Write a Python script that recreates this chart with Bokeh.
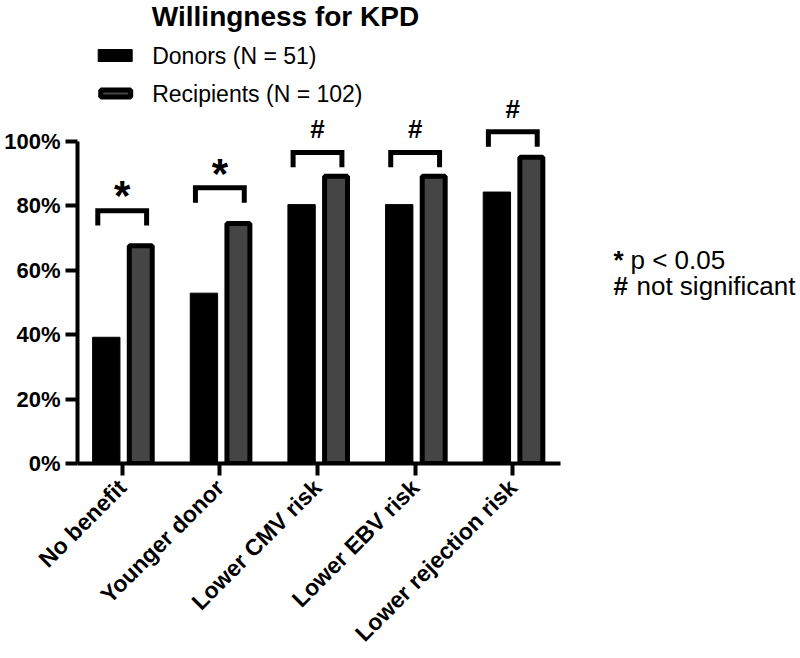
import math
from bokeh.plotting import figure
from bokeh.models import (Range1d, FixedTicker, PrintfTickFormatter, Label,
                          ColumnDataSource)
from bokeh.embed import file_html
from bokeh.resources import INLINE
from bokeh.core.properties import value

# ---------------- data ----------------
categories = ["No benefit", "Younger donor", "Lower CMV risk",
              "Lower EBV risk", "Lower rejection risk"]
donors = [39.2, 52.9, 80.4, 80.4, 84.3]          # % willing, N = 51
recipients = [67.6, 74.5, 89.2, 89.2, 95.1]      # % willing, N = 102
significance = ["*", "*", "#", "#", "#"]
bracket_top = [78.5, 85.6, 96.6, 96.6, 103.0]
y_ticks = [0, 20, 40, 60, 80, 100]
series_names = ["Donors (N = 51)", "Recipients (N = 102)"]
footnotes = ["* p < 0.05", "# not significant"]
title_text = "Willingness for KPD"

# ---------------- layout helpers ----------------
FONT = "Liberation Sans"
W, H = 800, 658
FL, FB = 77, 195            # left / bottom border (px)
PXX = 97.65                 # px per category
PXY = 3.22                  # px per percent
TICK0 = 121.7               # canvas x of first category
FRAME_H = H - FB


def dx(cx):
    return (cx - TICK0) / PXX


def dy(cy):
    return (FRAME_H - cy) / PXY


n = len(categories)
idx = list(range(n))

p = figure(width=W, height=H, output_backend="svg", toolbar_location=None,
           x_range=Range1d(dx(FL), dx(W)), y_range=Range1d(0, dy(0)),
           min_border_left=FL, min_border_right=0, min_border_top=0,
           min_border_bottom=FB)
p.background_fill_color = "white"
p.border_fill_color = "white"
p.outline_line_color = None
p.xgrid.visible = False
p.ygrid.visible = False

# ---------------- bars ----------------
src = ColumnDataSource(dict(
    xd=[i - 0.163 for i in idx], xr=[i + 0.19 for i in idx],
    donors=donors, recipients=recipients))
p.vbar(x="xd", top="donors", bottom=0, width=0.28, source=src,
       fill_color="black", line_color="black", line_width=1)
p.vbar(x="xr", top="recipients", bottom=0, width=0.235, source=src,
       fill_color="#454545", line_color="black", line_width=5)

# ---------------- significance brackets ----------------
hw = 0.25
leg = 4.6
xs = [[i - hw, i - hw, i + hw, i + hw] for i in idx]
ys = [[t - leg, t, t, t - leg] for t in bracket_top]
p.multi_line(xs=xs, ys=ys, line_color="black", line_width=5,
             line_join="miter", line_cap="butt")

star_fs, hash_fs = 42, 26
mark_gap = 7.2
star_i = [i for i in idx if significance[i] == "*"]
hash_i = [i for i in idx if significance[i] == "#"]
p.text(x=star_i,
       y=[bracket_top[i] + mark_gap - 0.2 * star_fs / PXY for i in star_i],
       text=[significance[i] for i in star_i], text_align="center",
       text_baseline="middle", text_font=value(FONT),
       text_font_style="bold", text_font_size=f"{star_fs}px", text_color="black")
p.text(x=hash_i,
       y=[bracket_top[i] + mark_gap for i in hash_i],
       text=[significance[i] for i in hash_i], text_align="center",
       text_baseline="middle", text_font=value(FONT),
       text_font_style="bold", text_font_size=f"{hash_fs}px", text_color="black")

# ---------------- axes ----------------
xa = p.xaxis[0]
xa.ticker = FixedTicker(ticks=idx)
xa.major_label_overrides = {i: c for i, c in zip(idx, categories)}
xa.major_label_orientation = math.pi / 4
xa.bounds = (dx(FL), 4.49)

ya = p.yaxis[0]
ya.ticker = FixedTicker(ticks=y_ticks)
ya.formatter = PrintfTickFormatter(format="%d%%")
ya.bounds = (0, 100)

for ax, fs, so in ((xa, "23px", 8), (ya, "22px", 5)):
    ax.axis_line_width = 4
    ax.axis_line_color = "black"
    ax.major_tick_line_width = 4
    ax.major_tick_line_color = "black"
    ax.major_tick_out = 12
    ax.major_tick_in = 0
    ax.minor_tick_line_color = None
    ax.major_label_text_font = FONT
    ax.major_label_text_font_style = "bold"
    ax.major_label_text_font_size = fs
    ax.major_label_text_color = "black"
    ax.major_label_standoff = so

# ---------------- title ----------------
p.add_layout(Label(x=dx(285), y=dy(16), text=title_text, text_align="center",
                   text_baseline="middle", text_font=FONT,
                   text_font_style="bold", text_font_size="28px",
                   text_color="black"))

# ---------------- legend (manual) ----------------
p.rect(x=[dx(114.7)], y=[dy(55)], width=34, height=12,
       width_units="screen", height_units="screen",
       fill_color="black", line_color="black", line_width=1)
p.rect(x=[dx(115.2)], y=[dy(93)], width=30, height=7,
       width_units="screen", height_units="screen",
       fill_color="#454545", line_color="black", line_width=5)
for name, cy in zip(series_names, (55, 93)):
    p.add_layout(Label(x=dx(151.7), y=dy(cy), text=name, text_align="left",
                       text_baseline="middle", text_font=FONT,
                       text_font_size="23px", text_color="black"))

# ---------------- footnotes (bold symbol + regular text) ----------------
for note, cy, text_x in zip(footnotes, (259, 285), (630, 636)):
    sym, rest = note.split(" ", 1)
    p.add_layout(Label(x=dx(613), y=dy(cy), text=sym, text_align="left",
                       text_baseline="middle", text_font=FONT,
                       text_font_style="bold", text_font_size="26px",
                       text_color="black"))
    p.add_layout(Label(x=dx(text_x), y=dy(cy), text=rest, text_align="left",
                       text_baseline="middle", text_font=FONT,
                       text_font_size="26px", text_color="black"))

open("out.html", "w").write(file_html(p, INLINE))
